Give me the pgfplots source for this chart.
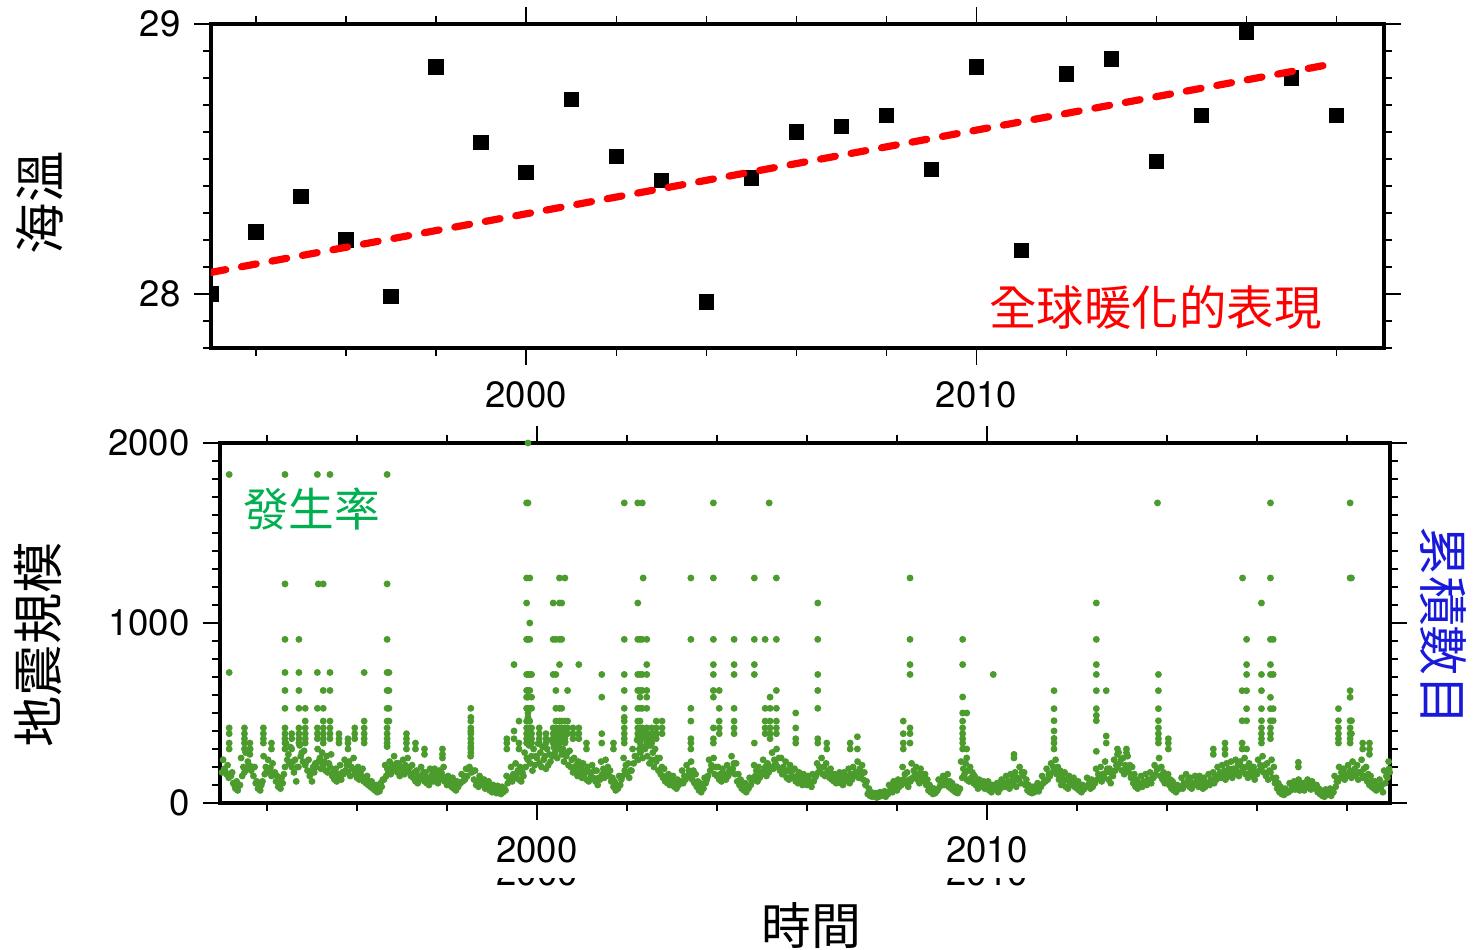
\documentclass[border=0pt]{standalone}
\usepackage{pgfplots}
\pgfplotsset{compat=1.18}
\usepackage{fontspec}
\setmainfont{TeX Gyre Heros}
\newfontfamily\cjk{Noto Sans CJK TC}
\definecolor{dotgreen}{RGB}{75,155,45}
\definecolor{labgreen}{RGB}{0,176,80}
\definecolor{labblue}{RGB}{25,25,220}
\pgfplotsset{
 gmt/.style={
  scale only axis,
  axis line style={line width=0.4mm},
  tick align=outside,
  xtick pos=both, ytick pos=both,
  major tick length=1.7mm,
  minor tick length=0.8mm,
  major tick style={line width=0.15mm,black},
  minor tick style={line width=0.15mm,black},
  tick label style={font=\fontsize{10.4}{12}\selectfont},
  xticklabel shift=0.45mm,
  yticklabel shift=0.1mm,
  /pgf/number format/assume math mode=true,
  /pgf/number format/1000 sep={},
  clip=true,
 },
 gdot/.style={only marks, color=dotgreen, mark=*, mark size=0.27mm, mark options={draw=none, fill=dotgreen}},
}
\begin{document}
\begin{tikzpicture}
\useasboundingbox (0,0) rectangle (147.4mm,95mm);
% ---------------- top panel ----------------
\begin{axis}[gmt, at={(21.1mm,60.2mm)}, anchor=south west, width=117.3mm, height=32.4mm,
 xmin=1993, xmax=2019.05, ymin=27.8, ymax=29, clip marker paths=true,
 xtick={2000,2010}, minor xtick={1994,1996,1998,2002,2004,2006,2008,2012,2014,2016,2018},
 ytick={28,29}, minor ytick={27.8,27.9,28.1,28.2,28.3,28.4,28.5,28.6,28.7,28.8,28.9}]
\addplot[only marks, mark=square*, mark size=0.7mm, black] coordinates {
(1993,28.00)(1994,28.23)(1995,28.36)(1996,28.20)(1997,27.99)(1998,28.84)(1999,28.56)
(2000,28.45)(2001,28.72)(2002,28.51)(2003,28.42)(2004,27.97)(2005,28.43)(2006,28.60)
(2007,28.62)(2008,28.66)(2009,28.46)(2010,28.84)(2011,28.16)(2012,28.815)(2013,28.87)
(2014,28.49)(2015,28.66)(2016,28.97)(2017,28.80)(2018,28.66)};
\addplot[color=red, line width=0.72mm, line cap=round, dash pattern=on 1.5mm off 1.6mm] coordinates {(1993,28.08)(2018,28.855)};
\end{axis}
% ---------------- bottom panel ----------------
\begin{axis}[gmt, at={(22.0mm,14.7mm)}, anchor=south west, width=117mm, height=36mm,
 xmin=1992.956, xmax=2018.956, ymin=0, ymax=2000,
 xtick={2000,2010}, minor xtick={1994,1996,1998,2002,2004,2006,2008,2012,2014,2016,2018},
 ytick={0,1000,2000}, minor ytick={100,200,...,1900}]
% baseline band
\addplot[gdot] coordinates {
(1993.00,170)(1993.05,190)(1993.10,160)(1993.15,140)(1993.20,150)(1993.25,110)(1993.30,80)(1993.35,70)(1993.40,100)(1993.45,150)(1993.50,170)(1993.55,190)(1993.60,210)(1993.65,180)(1993.70,150)(1993.75,110)(1993.80,80)(1993.85,70)(1993.90,120)(1993.95,160)
(1994.00,180)(1994.05,170)(1994.10,150)(1994.15,160)(1994.20,120)(1994.25,90)(1994.30,80)(1994.35,110)(1994.40,200)(1994.45,240)(1994.50,220)(1994.55,200)(1994.60,170)(1994.65,120)(1994.70,200)(1994.75,260)(1994.80,230)(1994.85,210)(1994.90,180)(1994.95,150)
(1995.00,120)(1995.05,170)(1995.10,200)(1995.15,230)(1995.20,190)(1995.25,210)(1995.30,180)(1995.35,170)(1995.40,200)(1995.45,150)(1995.50,130)(1995.55,120)(1995.60,140)(1995.65,130)(1995.70,160)(1995.75,180)(1995.80,170)(1995.85,150)(1995.90,190)(1995.95,160)
(1996.00,140)(1996.05,130)(1996.10,150)(1996.15,120)(1996.20,110)(1996.25,100)(1996.30,90)(1996.35,80)(1996.40,70)(1996.45,60)(1996.50,65)(1996.55,90)(1996.60,130)(1996.65,150)(1996.70,170)(1996.75,160)(1996.80,180)(1996.85,200)(1996.90,170)(1996.95,150)
(1997.00,180)(1997.05,160)(1997.10,190)(1997.15,170)(1997.20,150)(1997.25,140)(1997.30,120)(1997.35,110)(1997.40,130)(1997.45,150)(1997.50,120)(1997.55,110)(1997.60,100)(1997.65,130)(1997.70,120)(1997.75,140)(1997.80,110)(1997.85,130)(1997.90,150)(1997.95,120)
(1998.00,100)(1998.05,110)(1998.10,90)(1998.15,80)(1998.20,70)(1998.25,90)(1998.30,110)(1998.35,120)(1998.40,130)(1998.45,150)(1998.50,200)(1998.55,170)(1998.60,130)(1998.65,100)(1998.70,90)(1998.75,110)(1998.80,100)(1998.85,80)(1998.90,90)(1998.95,70)
(1999.00,60)(1999.05,70)(1999.10,55)(1999.15,60)(1999.20,50)(1999.25,60)(1999.30,70)(1999.35,110)(1999.40,130)(1999.45,120)(1999.50,140)(1999.55,160)(1999.60,130)(1999.65,120)(1999.70,150)(1999.75,200)(1999.80,240)(1999.85,220)(1999.90,180)(1999.95,210)
(2000.00,250)(2000.05,220)(2000.10,200)(2000.15,240)(2000.20,190)(2000.25,210)(2000.30,230)(2000.35,260)(2000.40,280)(2000.45,250)(2000.50,300)(2000.55,270)(2000.60,230)(2000.65,260)(2000.70,210)(2000.75,200)(2000.80,170)(2000.85,180)(2000.90,150)(2000.95,170)
(2001.00,140)(2001.05,160)(2001.10,130)(2001.15,120)(2001.20,150)(2001.25,140)(2001.30,120)(2001.35,100)(2001.40,130)(2001.45,160)(2001.50,140)(2001.55,170)(2001.60,150)(2001.65,120)(2001.70,90)(2001.75,70)(2001.80,80)(2001.85,100)(2001.90,150)(2001.95,180)
(2002.00,160)(2002.05,140)(2002.10,180)(2002.15,220)(2002.20,260)(2002.25,240)(2002.30,280)(2002.35,250)(2002.40,300)(2002.45,260)(2002.50,220)(2002.55,240)(2002.60,200)(2002.65,230)(2002.70,180)(2002.75,160)(2002.80,140)(2002.85,120)(2002.90,110)(2002.95,100)
(2003.00,110)(2003.05,90)(2003.10,80)(2003.15,100)(2003.20,120)(2003.25,110)(2003.30,130)(2003.35,150)(2003.40,160)(2003.45,130)(2003.50,110)(2003.55,90)(2003.60,70)(2003.65,60)(2003.70,80)(2003.75,110)(2003.80,150)(2003.85,180)(2003.90,200)(2003.95,160)
(2004.00,150)(2004.05,130)(2004.10,120)(2004.15,140)(2004.20,130)(2004.25,150)(2004.30,170)(2004.35,190)(2004.40,160)(2004.45,120)(2004.50,100)(2004.55,80)(2004.60,70)(2004.65,60)(2004.70,80)(2004.75,100)(2004.80,130)(2004.85,150)(2004.90,120)(2004.95,140)
(2005.00,160)(2005.05,180)(2005.10,150)(2005.15,170)(2005.20,200)(2005.25,190)(2005.30,220)(2005.35,200)(2005.40,180)(2005.45,160)(2005.50,170)(2005.55,140)(2005.60,130)(2005.65,150)(2005.70,140)(2005.75,120)(2005.80,110)(2005.85,120)(2005.90,100)(2005.95,110)
(2006.00,100)(2006.05,110)(2006.10,90)(2006.15,120)(2006.20,150)(2006.25,170)(2006.30,190)(2006.35,160)(2006.40,150)(2006.45,170)(2006.50,140)(2006.55,130)(2006.60,120)(2006.65,110)(2006.70,130)(2006.75,110)(2006.80,100)(2006.85,120)(2006.90,140)(2006.95,110)
(2007.00,130)(2007.05,150)(2007.10,170)(2007.15,140)(2007.20,160)(2007.25,130)(2007.30,100)(2007.35,50)(2007.40,40)(2007.45,35)(2007.50,40)(2007.55,30)(2007.60,35)(2007.65,40)(2007.70,45)(2007.75,35)(2007.80,50)(2007.85,70)(2007.90,60)(2007.95,80)
(2008.00,70)(2008.05,90)(2008.10,100)(2008.15,130)(2008.20,110)(2008.25,90)(2008.30,120)(2008.35,140)(2008.40,160)(2008.45,130)(2008.50,110)(2008.55,140)(2008.60,120)(2008.65,100)(2008.70,70)(2008.75,60)(2008.80,50)(2008.85,55)(2008.90,70)(2008.95,90)
(2009.00,110)(2009.05,100)(2009.10,120)(2009.15,90)(2009.20,80)(2009.25,70)(2009.30,60)(2009.35,55)(2009.40,80)(2009.45,140)(2009.50,160)(2009.55,130)(2009.60,120)(2009.65,140)(2009.70,110)(2009.75,100)(2009.80,80)(2009.85,90)(2009.90,100)(2009.95,80)
(2010.00,90)(2010.05,70)(2010.10,60)(2010.15,80)(2010.20,75)(2010.25,60)(2010.30,80)(2010.35,100)(2010.40,90)(2010.45,110)(2010.50,80)(2010.55,100)(2010.60,120)(2010.65,90)(2010.70,130)(2010.75,110)(2010.80,150)(2010.85,100)(2010.90,70)(2010.95,60)
(2011.00,55)(2011.05,60)(2011.10,70)(2011.15,65)(2011.20,90)(2011.25,110)(2011.30,120)(2011.35,130)(2011.40,150)(2011.45,170)(2011.50,190)(2011.55,160)(2011.60,130)(2011.65,100)(2011.70,120)(2011.75,90)(2011.80,80)(2011.85,110)(2011.90,100)(2011.95,90)
(2012.00,80)(2012.05,70)(2012.10,60)(2012.15,75)(2012.20,90)(2012.25,100)(2012.30,80)(2012.35,90)(2012.40,110)(2012.45,130)(2012.50,150)(2012.55,120)(2012.60,140)(2012.65,170)(2012.70,130)(2012.75,110)(2012.80,150)(2012.85,180)(2012.90,200)(2012.95,220)
(2013.00,180)(2013.05,160)(2013.10,190)(2013.15,170)(2013.20,140)(2013.25,110)(2013.30,90)(2013.35,80)(2013.40,100)(2013.45,90)(2013.50,110)(2013.55,100)(2013.60,120)(2013.65,110)(2013.70,140)(2013.75,160)(2013.80,190)(2013.85,150)(2013.90,130)(2013.95,110)
(2014.00,120)(2014.05,100)(2014.10,80)(2014.15,70)(2014.20,60)(2014.25,75)(2014.30,90)(2014.35,80)(2014.40,100)(2014.45,110)(2014.50,90)(2014.55,80)(2014.60,100)(2014.65,110)(2014.70,90)(2014.75,100)(2014.80,80)(2014.85,90)(2014.90,110)(2014.95,100)
(2015.00,120)(2015.05,110)(2015.10,130)(2015.15,150)(2015.20,140)(2015.25,160)(2015.30,130)(2015.35,150)(2015.40,170)(2015.45,140)(2015.50,160)(2015.55,180)(2015.60,150)(2015.65,170)(2015.70,190)(2015.75,160)(2015.80,140)(2015.85,170)(2015.90,150)(2015.95,130)
(2016.00,160)(2016.05,180)(2016.10,200)(2016.15,170)(2016.20,150)(2016.25,130)(2016.30,170)(2016.35,140)(2016.40,110)(2016.45,80)(2016.50,60)(2016.55,50)(2016.60,45)(2016.65,55)(2016.70,60)(2016.75,70)(2016.80,80)(2016.85,75)(2016.90,90)(2016.95,70)
(2017.00,80)(2017.05,70)(2017.10,90)(2017.15,85)(2017.20,75)(2017.25,90)(2017.30,80)(2017.35,60)(2017.40,50)(2017.45,40)(2017.50,35)(2017.55,45)(2017.60,50)(2017.65,40)(2017.70,60)(2017.75,90)(2017.80,120)(2017.85,140)(2017.90,160)(2017.95,130)
(2018.00,150)(2018.05,170)(2018.10,140)(2018.15,160)(2018.20,150)(2018.25,130)(2018.30,170)(2018.35,140)(2018.40,150)(2018.45,120)(2018.50,100)(2018.55,90)(2018.60,80)(2018.65,70)(2018.70,90)(2018.75,80)(2018.80,60)(2018.85,110)(2018.90,140)(2018.95,170)
};
% middle of the band
\addplot[gdot] coordinates {
(1993.075,175)(1993.175,150)(1993.275,100)(1993.375,95)(1993.475,200)(1993.575,230)(1993.675,200)(1993.775,120)(1993.875,100)(1993.975,200)
(1994.075,195)(1994.175,170)(1994.275,110)(1994.375,160)(1994.475,270)(1994.575,230)(1994.675,200)(1994.775,280)(1994.875,230)(1994.975,170)
(1995.075,220)(1995.175,250)(1995.275,230)(1995.375,220)(1995.475,170)(1995.575,160)(1995.675,170)(1995.775,210)(1995.875,200)(1995.975,190)
(1996.075,170)(1996.175,140)(1996.275,120)(1996.375,100)(1996.475,85)(1996.575,130)(1996.675,190)(1996.775,210)(1996.875,220)(1996.975,200)
(1997.075,210)(1997.175,200)(1997.275,170)(1997.375,150)(1997.475,170)(1997.575,140)(1997.675,160)(1997.775,160)(1997.875,170)(1997.975,140)
(1998.075,120)(1998.175,100)(1998.275,110)(1998.375,150)(1998.475,190)(1998.575,180)(1998.675,120)(1998.775,130)(1998.875,110)(1998.975,90)
(1999.075,80)(1999.175,75)(1999.275,80)(1999.375,140)(1999.475,160)(1999.575,180)(1999.675,170)(1999.775,250)(1999.875,260)(1999.975,260)
(2000.075,280)(2000.175,260)(2000.275,270)(2000.375,310)(2000.475,320)(2000.575,300)(2000.675,280)(2000.775,240)(2000.875,210)(2000.975,200)
(2001.075,180)(2001.175,170)(2001.275,180)(2001.375,140)(2001.475,190)(2001.575,200)(2001.675,140)(2001.775,100)(2001.875,130)(2001.975,210)
(2002.075,180)(2002.175,260)(2002.275,300)(2002.375,310)(2002.475,320)(2002.575,280)(2002.675,250)(2002.775,200)(2002.875,150)(2002.975,130)
(2003.075,110)(2003.175,110)(2003.275,150)(2003.375,180)(2003.475,180)(2003.575,120)(2003.675,90)(2003.775,130)(2003.875,210)(2003.975,200)
(2004.075,160)(2004.175,160)(2004.275,180)(2004.375,220)(2004.475,160)(2004.575,100)(2004.675,90)(2004.775,120)(2004.875,180)(2004.975,170)
(2005.075,200)(2005.175,200)(2005.275,240)(2005.375,250)(2005.475,200)(2005.575,180)(2005.675,180)(2005.775,150)(2005.875,140)(2005.975,130)
(2006.075,120)(2006.175,140)(2006.275,200)(2006.375,200)(2006.475,180)(2006.575,160)(2006.675,140)(2006.775,140)(2006.875,150)(2006.975,160)
(2007.075,170)(2007.175,190)(2007.275,170)(2007.375,80)(2007.475,50)(2007.575,45)(2007.675,50)(2007.775,50)(2007.875,85)(2007.975,100)
(2008.075,110)(2008.175,160)(2008.275,130)(2008.375,180)(2008.475,160)(2008.575,160)(2008.675,130)(2008.775,80)(2008.875,65)(2008.975,110)
(2009.075,130)(2009.175,120)(2009.275,90)(2009.375,70)(2009.475,190)(2009.575,180)(2009.675,170)(2009.775,120)(2009.875,110)(2009.975,100)
(2010.075,95)(2010.175,90)(2010.275,90)(2010.375,115)(2010.475,120)(2010.575,140)(2010.675,140)(2010.775,170)(2010.875,130)(2010.975,80)
(2011.075,75)(2011.175,90)(2011.275,130)(2011.375,160)(2011.475,200)(2011.575,200)(2011.675,150)(2011.775,130)(2011.875,130)(2011.975,110)
(2012.075,95)(2012.175,90)(2012.275,110)(2012.375,110)(2012.475,160)(2012.575,160)(2012.675,190)(2012.775,160)(2012.875,210)(2012.975,240)
(2013.075,210)(2013.175,210)(2013.275,160)(2013.375,110)(2013.475,120)(2013.575,130)(2013.675,140)(2013.775,190)(2013.875,200)(2013.975,140)
(2014.075,130)(2014.175,95)(2014.275,90)(2014.375,110)(2014.475,130)(2014.575,110)(2014.675,130)(2014.775,120)(2014.875,110)(2014.975,130)
(2015.075,150)(2015.175,170)(2015.275,180)(2015.375,190)(2015.475,190)(2015.575,210)(2015.675,200)(2015.775,200)(2015.875,190)(2015.975,170)
(2016.075,210)(2016.175,210)(2016.275,180)(2016.375,200)(2016.475,110)(2016.575,70)(2016.675,65)(2016.775,90)(2016.875,100)(2016.975,100)
(2017.075,95)(2017.175,110)(2017.275,100)(2017.375,80)(2017.475,55)(2017.575,60)(2017.675,60)(2017.775,120)(2017.875,170)(2017.975,160)
(2018.075,180)(2018.175,190)(2018.275,170)(2018.375,190)(2018.475,160)(2018.575,120)(2018.675,95)(2018.775,100)(2018.875,150)(2018.935,190)
};
% upper scatter of the band
\addplot[gdot] coordinates {
(1993.025,240)(1993.125,210)(1993.225,170)(1993.325,120)(1993.425,250)(1993.525,280)(1993.625,300)(1993.725,200)(1993.825,110)(1993.925,260)
(1994.025,240)(1994.125,220)(1994.225,150)(1994.325,140)(1994.425,330)(1994.525,310)(1994.625,240)(1994.725,320)(1994.825,290)(1994.925,240)
(1995.025,200)(1995.125,300)(1995.225,280)(1995.325,260)(1995.425,270)(1995.525,190)(1995.625,210)(1995.725,240)(1995.825,230)(1995.925,250)
(1996.025,200)(1996.125,190)(1996.225,150)(1996.325,120)(1996.425,100)(1996.525,110)(1996.625,210)(1996.725,230)(1996.825,260)(1996.925,220)
(1997.025,240)(1997.125,250)(1997.225,210)(1997.325,180)(1997.425,200)(1997.525,170)(1997.625,190)(1997.725,190)(1997.825,180)(1997.925,200)
(1998.025,150)(1998.125,140)(1998.225,120)(1998.325,160)(1998.425,190)(1998.525,260)(1998.625,180)(1998.725,150)(1998.825,130)(1998.925,120)
(1999.025,100)(1999.125,95)(1999.225,90)(1999.325,150)(1999.425,200)(1999.525,220)(1999.625,200)(1999.725,280)(1999.825,320)(1999.925,300)
(2000.025,330)(2000.125,310)(2000.225,300)(2000.325,350)(2000.425,380)(2000.525,360)(2000.625,340)(2000.725,290)(2000.825,250)(2000.925,230)
(2001.025,220)(2001.125,200)(2001.225,210)(2001.325,180)(2001.425,230)(2001.525,240)(2001.625,180)(2001.725,120)(2001.825,150)(2001.925,250)
(2002.025,220)(2002.125,300)(2002.225,350)(2002.325,370)(2002.425,390)(2002.525,320)(2002.625,300)(2002.725,250)(2002.825,190)(2002.925,160)
(2003.025,150)(2003.125,130)(2003.225,180)(2003.325,210)(2003.425,230)(2003.525,160)(2003.625,110)(2003.725,140)(2003.825,240)(2003.925,250)
(2004.025,200)(2004.125,190)(2004.225,210)(2004.325,260)(2004.425,220)(2004.525,130)(2004.625,110)(2004.725,140)(2004.825,210)(2004.925,200)
(2005.025,240)(2005.125,220)(2005.225,280)(2005.325,300)(2005.425,250)(2005.525,230)(2005.625,210)(2005.725,190)(2005.825,170)(2005.925,160)
(2006.025,150)(2006.125,160)(2006.225,220)(2006.325,250)(2006.425,220)(2006.525,190)(2006.625,160)(2006.725,170)(2006.825,170)(2006.925,190)
(2007.025,200)(2007.125,230)(2007.225,210)(2007.325,120)(2007.425,60)(2007.525,55)(2007.625,60)(2007.725,65)(2007.825,100)(2007.925,120)
(2008.025,130)(2008.125,200)(2008.225,170)(2008.325,220)(2008.425,200)(2008.525,190)(2008.625,160)(2008.725,100)(2008.825,80)(2008.925,130)
(2009.025,150)(2009.125,160)(2009.225,110)(2009.325,90)(2009.425,230)(2009.525,220)(2009.625,200)(2009.725,150)(2009.825,130)(2009.925,120)
(2010.025,120)(2010.125,100)(2010.225,110)(2010.325,130)(2010.425,150)(2010.525,160)(2010.625,170)(2010.725,200)(2010.825,170)(2010.925,100)
(2011.025,90)(2011.125,110)(2011.225,150)(2011.325,190)(2011.425,220)(2011.525,240)(2011.625,180)(2011.725,170)(2011.825,150)(2011.925,140)
(2012.025,120)(2012.125,100)(2012.225,140)(2012.325,130)(2012.425,190)(2012.525,200)(2012.625,230)(2012.725,190)(2012.825,240)(2012.925,280)
(2013.025,250)(2013.125,260)(2013.225,200)(2013.325,130)(2013.425,150)(2013.525,160)(2013.625,170)(2013.725,210)(2013.825,250)(2013.925,170)
(2014.025,160)(2014.125,120)(2014.225,100)(2014.325,140)(2014.425,160)(2014.525,140)(2014.625,150)(2014.725,150)(2014.825,140)(2014.925,160)
(2015.025,170)(2015.125,200)(2015.225,210)(2015.325,220)(2015.425,230)(2015.525,240)(2015.625,230)(2015.725,250)(2015.825,220)(2015.925,200)
(2016.025,240)(2016.125,260)(2016.225,220)(2016.325,240)(2016.425,140)(2016.525,90)(2016.625,80)(2016.725,110)(2016.825,120)(2016.925,130)
(2017.025,110)(2017.125,130)(2017.225,120)(2017.325,100)(2017.425,70)(2017.525,75)(2017.625,80)(2017.725,150)(2017.825,200)(2017.925,190)
(2018.025,210)(2018.125,230)(2018.225,210)(2018.325,240)(2018.425,200)(2018.525,150)(2018.625,120)(2018.725,130)(2018.825,180)(2018.925,230)
};
% bursts
\addplot[gdot] coordinates {
(1993.16,1825)(1993.16,725)(1993.16,417)(1993.16,385)(1993.16,333)(1993.16,300)
(1993.50,417)(1993.50,385)(1993.50,357)(1993.50,333)(1993.50,300)
(1993.62,333)(1993.62,300)(1993.62,270)
(1993.92,417)(1993.92,385)(1993.92,357)(1993.92,333)
(1994.10,333)(1994.10,300)
(1994.40,1825)(1994.40,1217)(1994.40,909)(1994.40,725)(1994.40,625)(1994.40,526)(1994.40,417)(1994.40,385)(1994.40,357)(1994.40,333)(1994.40,300)
(1994.55,385)(1994.55,357)(1994.55,300)
(1994.71,909)(1994.71,725)(1994.71,625)(1994.71,526)(1994.71,417)(1994.71,385)(1994.71,357)(1994.71,333)
(1994.85,526)(1994.85,455)(1994.85,417)(1994.85,385)(1994.85,357)(1994.85,333)
(1995.12,1825)(1995.14,1217)(1995.12,725)(1995.12,526)(1995.12,417)(1995.12,385)(1995.12,357)
(1995.25,1217)(1995.25,625)(1995.25,526)(1995.25,455)(1995.25,417)(1995.25,385)(1995.25,357)(1995.25,333)
(1995.40,1825)(1995.40,725)(1995.40,625)(1995.40,455)(1995.40,417)(1995.40,385)(1995.40,357)
(1995.60,385)(1995.60,357)(1995.60,333)
(1995.80,357)(1995.80,333)(1995.80,300)
(1995.95,417)(1995.95,385)(1995.95,357)
(1996.16,725)(1996.16,455)(1996.16,417)(1996.16,385)(1996.16,357)(1996.16,333)
(1996.67,1825)(1996.67,1217)(1996.67,909)(1996.67,725)(1996.67,625)(1996.67,526)(1996.67,455)(1996.67,417)(1996.67,385)(1996.67,357)(1996.67,333)(1996.67,313)
(1996.71,725)(1996.71,625)(1996.71,526)(1996.71,455)
(1997.10,385)(1997.10,357)(1997.10,333)(1997.10,300)
(1997.30,333)(1997.30,300)(1997.50,300)(1997.50,270)
(1997.90,300)(1997.90,270)(1997.90,250)
(1998.53,526)(1998.53,476)(1998.53,455)(1998.53,417)(1998.53,400)(1998.53,385)(1998.53,357)(1998.53,333)(1998.53,313)(1998.53,300)(1998.53,280)
(1999.33,357)(1999.33,333)(1999.33,300)
(1999.49,769)(1999.49,400)(1999.49,357)
(1999.60,455)(1999.60,333)(1999.60,300)
(1999.77,1667)(1999.77,1250)(1999.77,1111)(1999.77,909)(1999.77,714)(1999.77,625)(1999.77,588)(1999.77,526)(1999.77,455)(1999.77,417)(1999.77,385)(1999.77,357)(1999.77,333)
(1999.80,2000)(1999.80,1667)(1999.80,909)(1999.80,714)(1999.80,625)(1999.80,588)(1999.80,526)(1999.80,500)(1999.80,476)(1999.80,417)(1999.80,385)
(1999.84,1250)(1999.84,1000)(1999.84,909)(1999.84,714)(1999.84,625)(1999.84,526)(1999.84,455)(1999.84,417)(1999.84,385)(1999.84,357)
(1999.88,714)(1999.88,588)(1999.88,526)(1999.88,417)(1999.88,385)(1999.88,357)(1999.88,333)
(2000.05,417)(2000.05,385)(2000.05,357)(2000.05,333)
(2000.20,385)(2000.20,357)(2000.20,333)
(2000.36,1111)(2000.36,909)(2000.36,714)(2000.36,417)(2000.36,385)(2000.36,357)(2000.36,333)
(2000.42,909)(2000.42,714)(2000.42,625)(2000.42,526)(2000.42,455)(2000.42,417)(2000.42,385)(2000.42,357)
(2000.50,1250)(2000.50,1111)(2000.50,909)(2000.50,769)(2000.50,526)(2000.50,455)(2000.50,417)(2000.50,385)(2000.50,357)(2000.50,333)
(2000.55,1111)(2000.55,909)(2000.55,526)(2000.55,455)(2000.55,417)(2000.55,385)(2000.55,357)
(2000.62,1250)(2000.62,455)(2000.62,417)(2000.62,385)(2000.62,357)(2000.62,333)
(2000.68,625)(2000.68,455)(2000.68,417)(2000.68,385)
(2000.80,417)(2000.80,385)(2000.80,357)
(2000.93,769)(2000.93,417)(2000.93,385)(2000.93,357)
(2001.10,333)(2001.10,300)
(2001.44,714)(2001.44,588)(2001.44,385)(2001.44,333)
(2001.70,333)(2001.70,300)
(2001.94,1667)(2001.94,909)(2001.94,714)(2001.94,625)(2001.94,526)(2001.94,476)(2001.94,455)(2001.94,417)(2001.94,385)(2001.94,357)(2001.94,333)
(2002.24,1667)(2002.24,1111)(2002.24,909)(2002.24,714)(2002.24,625)(2002.24,526)(2002.24,455)(2002.24,417)(2002.24,385)(2002.24,357)
(2002.29,909)(2002.29,714)(2002.29,625)(2002.29,588)(2002.29,526)(2002.29,455)(2002.29,417)(2002.29,385)(2002.29,357)(2002.29,333)
(2002.34,1667)(2002.36,1250)(2002.34,909)(2002.34,714)(2002.34,625)(2002.34,526)(2002.34,417)(2002.34,385)(2002.34,357)
(2002.44,909)(2002.44,769)(2002.44,714)(2002.44,625)(2002.44,588)(2002.44,526)(2002.44,417)(2002.44,385)(2002.44,357)(2002.44,333)
(2002.55,417)(2002.55,385)(2002.55,357)(2002.55,333)
(2002.65,455)(2002.65,417)(2002.65,385)(2002.65,357)
(2002.78,455)(2002.78,417)(2002.78,385)
(2003.42,1250)(2003.42,909)(2003.42,526)(2003.42,455)(2003.42,357)(2003.42,333)(2003.42,300)
(2003.92,1667)(2003.92,1250)(2003.92,909)(2003.92,769)(2003.92,714)(2003.92,625)(2003.92,588)(2003.92,417)(2003.92,357)(2003.92,333)
(2004.05,625)(2004.05,526)(2004.05,455)(2004.05,417)(2004.05,385)
(2004.38,909)(2004.38,769)(2004.38,714)(2004.38,526)(2004.38,455)(2004.38,417)(2004.38,385)
(2004.83,1250)(2004.83,909)(2004.83,769)(2004.83,714)(2004.83,333)
(2005.07,909)(2005.07,526)(2005.07,455)(2005.07,417)(2005.07,385)
(2005.16,1667)(2005.18,588)(2005.18,526)(2005.18,455)(2005.18,417)(2005.18,385)(2005.18,357)
(2005.32,1250)(2005.32,909)(2005.32,625)(2005.32,526)(2005.32,455)(2005.32,417)(2005.32,385)
(2005.75,500)(2005.75,417)(2005.75,357)(2005.75,333)
(2006.24,1111)(2006.24,909)(2006.24,714)(2006.24,625)(2006.24,526)(2006.24,357)(2006.24,333)
(2006.44,333)(2006.44,300)(2006.96,333)(2006.96,300)(2007.12,368)(2007.12,300)
(2008.14,455)(2008.14,385)(2008.14,333)(2008.14,300)
(2008.29,1250)(2008.29,909)(2008.29,769)(2008.29,714)(2008.29,417)(2008.29,385)(2008.29,333)
(2009.46,909)(2009.46,769)(2009.46,589)(2009.46,500)(2009.46,455)(2009.46,417)(2009.46,385)(2009.46,357)(2009.46,333)(2009.46,300)
(2009.55,500)(2009.55,300)(2009.55,250)
(2010.14,714)(2010.60,270)(2010.60,250)
(2011.49,624)(2011.49,524)(2011.49,457)(2011.49,400)(2011.49,359)(2011.49,333)(2011.49,300)
(2012.43,1111)(2012.43,909)(2012.43,769)(2012.43,714)(2012.43,624)(2012.43,524)(2012.43,487)(2012.43,457)(2012.43,287)
(2012.65,624)(2012.65,372)(2012.65,333)
(2012.90,300)(2012.90,270)(2013.10,300)(2013.10,280)
(2013.79,1667)(2013.81,714)(2013.81,624)(2013.81,524)(2013.81,457)(2013.81,417)(2013.81,385)(2013.81,357)(2013.81,333)
(2014.03,357)(2014.03,333)(2014.03,300)
(2015.03,300)(2015.03,270)
(2015.29,333)(2015.29,300)(2015.29,270)
(2015.68,1250)(2015.67,624)(2015.67,457)(2015.67,333)(2015.67,300)
(2015.77,909)(2015.77,769)(2015.77,714)(2015.77,624)(2015.77,524)(2015.77,457)(2015.77,300)
(2016.10,1111)(2016.10,714)(2016.10,624)(2016.10,524)(2016.10,457)(2016.10,417)(2016.10,385)(2016.10,357)(2016.10,333)
(2016.30,1667)(2016.30,1250)(2016.30,909)(2016.30,769)(2016.30,714)(2016.30,587)(2016.30,524)(2016.30,457)(2016.30,417)(2016.30,385)(2016.30,357)
(2016.36,909)(2016.36,714)(2016.36,524)(2016.36,457)
(2016.92,226)(2016.92,200)
(2017.81,524)(2017.81,457)(2017.81,417)(2017.81,385)(2017.81,357)(2017.81,333)
(2018.07,1667)(2018.07,1250)(2018.07,624)(2018.07,587)(2018.07,457)(2018.07,417)(2018.07,385)(2018.07,357)(2018.07,333)
(2018.10,1250)(2018.10,457)(2018.10,385)
(2018.35,333)(2018.35,300)(2018.50,333)(2018.50,300)(2018.50,270)
};
\end{axis}
% ---------------- labels ----------------
\node[rotate=90, font=\cjk\fontsize{14.6}{16}\selectfont] at (4.0mm,74.7mm) {海溫};
\node[rotate=90, font=\cjk\fontsize{14.6}{16}\selectfont] at (3.8mm,30.5mm) {地震規模};
\node[rotate=-90, text=labblue, font=\cjk\fontsize{14.2}{16}\selectfont] at (144.3mm,32.4mm) {累積數目};
\node[font=\cjk\fontsize{14.2}{16}\selectfont] at (81.1mm,2.4mm) {時間};
\node[text=red, font=\cjk\fontsize{13.5}{15}\selectfont] at (115.55mm,64.25mm) {全球暖化的表現};
\node[text=labgreen, font=\cjk\fontsize{13}{15}\selectfont] at (31.17mm,44.05mm) {發生率};
% clipped duplicate tick labels under the lower panel
\begin{scope}
\clip (40mm,5.8mm) rectangle (110mm,7.1mm);
\node[font=\fontsize{10.4}{12}\selectfont] at (53.7mm,7.75mm) {2000};
\node[font=\fontsize{10.4}{12}\selectfont] at (98.7mm,7.75mm) {2010};
\end{scope}
\end{tikzpicture}
\end{document}
